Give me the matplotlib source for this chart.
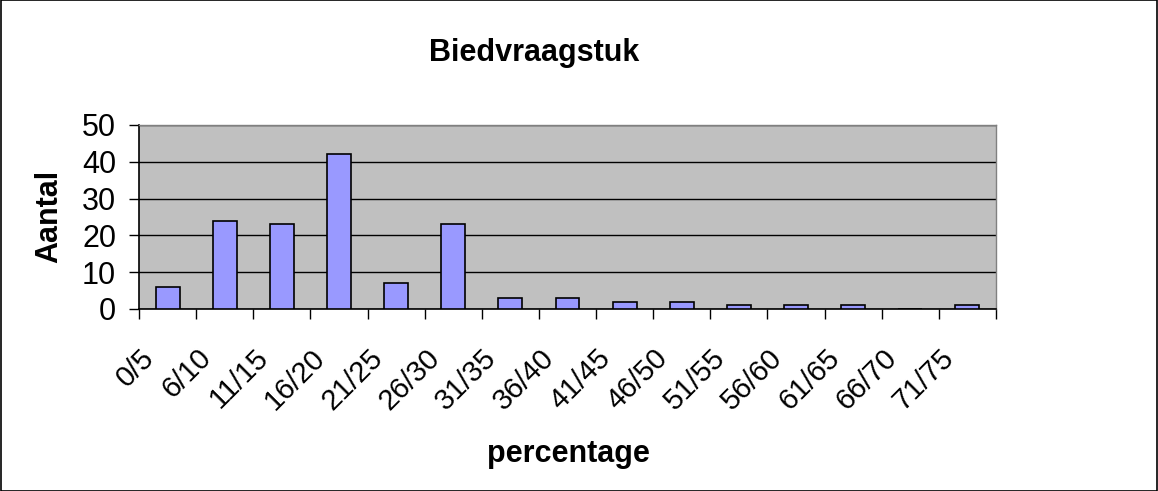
import matplotlib
matplotlib.use("Agg")
import matplotlib.pyplot as plt
import matplotlib.transforms as mtransforms
import numpy as np

categories = ["0/5", "6/10", "11/15", "16/20", "21/25", "26/30", "31/35", "36/40",
              "41/45", "46/50", "51/55", "56/60", "61/65", "66/70", "71/75"]
values = [6, 24, 23, 42, 7, 23, 3, 3, 2, 2, 1, 1, 1, 0, 1]
yticks = [0, 10, 20, 30, 40, 50]

plt.rcParams['font.family'] = ['Liberation Sans', 'DejaVu Sans']

W, H = 1158, 491
fig = plt.figure(figsize=(W / 100, H / 100), dpi=100)
fig.patch.set_facecolor('white')
fig.add_artist(plt.Rectangle((0.0005, 0.001), 0.999, 0.998, transform=fig.transFigure,
                             fill=False, edgecolor='black', linewidth=1.2))

ax = fig.add_axes([139 / W, 1 - 309 / H, (996 - 139) / W, (309 - 125) / H])
ax.set_facecolor('#C0C0C0')
x = np.arange(len(categories))
ax.bar(x, values, width=0.42, color='#9999FF', edgecolor='black', linewidth=1.2, zorder=3)
ax.set_xlim(-0.5, len(categories) - 0.5)
ax.set_ylim(0, 50)
ax.set_yticks(yticks)
ax.set_yticklabels([str(v) for v in yticks], fontsize=22)
ax.yaxis.grid(True, color='black', linewidth=1.0, zorder=1)
ax.set_axisbelow(True)

ax.set_xticks(x)
ax.set_xticklabels(categories, fontsize=21, rotation=45, ha='right', va='top',
                   rotation_mode='anchor')
ax.tick_params(axis='x', which='major', length=0, pad=25)
offset = mtransforms.ScaledTranslation(-28 / 100, 0, fig.dpi_scale_trans)
for lab in ax.get_xticklabels():
    lab.set_transform(lab.get_transform() + offset)
ax.set_xticks(np.arange(-0.5, len(categories)), minor=True)
ax.tick_params(axis='x', which='minor', length=7, width=1, direction='out')
ax.tick_params(axis='y', length=7.5, width=1, direction='out', pad=9)

for s in ['left', 'bottom']:
    ax.spines[s].set_color('black')
    ax.spines[s].set_linewidth(1.2)
for s in ['top', 'right']:
    ax.spines[s].set_color('#808080')
    ax.spines[s].set_linewidth(1.0)

fig.text(534 / W, 1 - 53 / H, "Biedvraagstuk", fontsize=22, fontweight='bold',
         ha='center', va='center')
fig.text(49 / W, 1 - 216 / H, "Aantal", fontsize=22, fontweight='bold',
         ha='center', va='center', rotation=90)
fig.text(568 / W, 1 - 454 / H, "percentage", fontsize=22, fontweight='bold',
         ha='center', va='center')

fig.savefig("out.png", dpi=100)
